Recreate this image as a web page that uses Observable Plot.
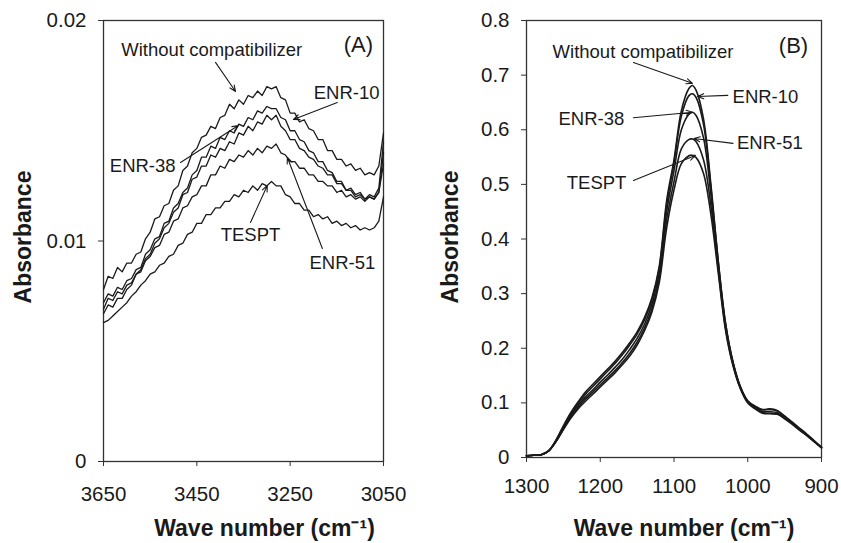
<!DOCTYPE html>
<html><head><meta charset="utf-8">
<script src="https://cdn.jsdelivr.net/npm/d3@7"></script>
<script src="https://cdn.jsdelivr.net/npm/@observablehq/plot@0.6"></script>
<style>
body{margin:0;background:#fff;}
#wrap{position:relative;width:841px;height:543px;overflow:hidden;background:#fff;}
#wrap > svg{position:absolute;top:0;}
</style></head><body><div id="wrap"></div>
<script>
// ---------- Panel A data (3650–3050 cm-1) ----------
const waveA = [3650,3640,3630,3620,3610,3600,3590,3580,3570,3560,3550,3540,3530,3520,3510,3500,3490,3480,3470,3460,3450,3440,3430,3420,3410,3400,3390,3380,3370,3360,3350,3340,3330,3320,3310,3300,3290,3280,3270,3260,3250,3240,3230,3220,3210,3200,3190,3180,3170,3160,3150,3140,3130,3120,3110,3100,3090,3080,3070,3060,3050];
const absA_without = [0.0078,0.0084,0.0083,0.0088,0.0086,0.0090,0.0090,0.0094,0.0095,0.0101,0.0104,0.0110,0.0111,0.0116,0.0117,0.0123,0.0125,0.0132,0.0134,0.0140,0.0142,0.0147,0.0148,0.0152,0.0151,0.0156,0.0157,0.0162,0.0160,0.0164,0.0162,0.0166,0.0165,0.0168,0.0166,0.0170,0.0169,0.0170,0.0165,0.0164,0.0158,0.0158,0.0154,0.0155,0.0151,0.0150,0.0146,0.0146,0.0141,0.0141,0.0137,0.0137,0.0134,0.0135,0.0132,0.0133,0.0130,0.0131,0.0130,0.0134,0.0149];
const absA_enr10 = [0.0072,0.0076,0.0075,0.0079,0.0078,0.0082,0.0083,0.0087,0.0088,0.0094,0.0096,0.0101,0.0102,0.0108,0.0109,0.0115,0.0117,0.0122,0.0124,0.0130,0.0132,0.0138,0.0138,0.0143,0.0142,0.0147,0.0146,0.0150,0.0149,0.0153,0.0152,0.0156,0.0155,0.0159,0.0158,0.0161,0.0160,0.0160,0.0156,0.0155,0.0150,0.0150,0.0146,0.0145,0.0141,0.0140,0.0136,0.0136,0.0132,0.0131,0.0127,0.0127,0.0123,0.0124,0.0121,0.0122,0.0119,0.0121,0.0120,0.0124,0.0145];
const absA_enr38 = [0.0069,0.0074,0.0073,0.0077,0.0076,0.0080,0.0081,0.0085,0.0087,0.0092,0.0094,0.0099,0.0101,0.0106,0.0108,0.0113,0.0115,0.0121,0.0122,0.0128,0.0129,0.0134,0.0134,0.0139,0.0138,0.0142,0.0141,0.0145,0.0144,0.0149,0.0148,0.0152,0.0150,0.0154,0.0153,0.0157,0.0155,0.0157,0.0152,0.0150,0.0146,0.0146,0.0142,0.0141,0.0138,0.0137,0.0134,0.0133,0.0130,0.0130,0.0126,0.0126,0.0123,0.0123,0.0120,0.0121,0.0119,0.0120,0.0119,0.0122,0.0140];
const absA_enr51 = [0.0067,0.0071,0.0070,0.0074,0.0074,0.0078,0.0080,0.0085,0.0086,0.0091,0.0093,0.0097,0.0098,0.0103,0.0104,0.0109,0.0110,0.0115,0.0116,0.0120,0.0121,0.0125,0.0125,0.0130,0.0130,0.0134,0.0133,0.0137,0.0136,0.0139,0.0138,0.0141,0.0139,0.0142,0.0140,0.0143,0.0142,0.0144,0.0140,0.0139,0.0136,0.0136,0.0133,0.0133,0.0130,0.0130,0.0127,0.0127,0.0125,0.0125,0.0122,0.0123,0.0120,0.0121,0.0119,0.0120,0.0118,0.0120,0.0119,0.0122,0.0135];
const absA_tespt = [0.0063,0.0064,0.0066,0.0068,0.0070,0.0072,0.0075,0.0077,0.0080,0.0082,0.0085,0.0086,0.0089,0.0090,0.0093,0.0094,0.0098,0.0099,0.0103,0.0104,0.0108,0.0108,0.0112,0.0112,0.0115,0.0115,0.0118,0.0118,0.0121,0.0120,0.0123,0.0122,0.0125,0.0123,0.0126,0.0125,0.0127,0.0125,0.0125,0.0121,0.0120,0.0117,0.0117,0.0114,0.0114,0.0111,0.0112,0.0110,0.0111,0.0108,0.0109,0.0107,0.0108,0.0106,0.0107,0.0105,0.0106,0.0105,0.0106,0.0109,0.0120];
const ticksXA = [3650,3450,3250,3050];
const ticksYA = [0,0.01,0.02];

// ---------- Panel B data (1300–900 cm-1) ----------
const waveB = [1300,1290,1280,1270,1260,1250,1240,1230,1220,1210,1200,1190,1180,1170,1160,1150,1140,1130,1120,1110,1100,1090,1080,1075,1070,1060,1050,1040,1030,1020,1010,1000,990,980,970,960,950,940,930,920,910,900];
const absB_without = [0.003,0.004,0.005,0.012,0.032,0.058,0.082,0.102,0.120,0.134,0.148,0.162,0.176,0.192,0.210,0.230,0.256,0.292,0.350,0.470,0.545,0.635,0.675,0.681,0.672,0.620,0.500,0.360,0.245,0.175,0.130,0.104,0.094,0.088,0.089,0.086,0.076,0.065,0.054,0.043,0.031,0.019];
const absB_enr10 = [0.003,0.004,0.005,0.012,0.031,0.056,0.080,0.099,0.116,0.130,0.144,0.158,0.172,0.188,0.206,0.226,0.252,0.288,0.346,0.462,0.540,0.625,0.662,0.666,0.659,0.610,0.495,0.358,0.244,0.174,0.129,0.103,0.093,0.087,0.088,0.085,0.075,0.064,0.053,0.042,0.030,0.018];
const absB_enr38 = [0.003,0.004,0.005,0.012,0.030,0.054,0.077,0.095,0.111,0.124,0.138,0.151,0.165,0.180,0.198,0.218,0.244,0.280,0.338,0.450,0.525,0.600,0.628,0.632,0.626,0.585,0.482,0.352,0.240,0.172,0.128,0.102,0.091,0.084,0.084,0.082,0.073,0.063,0.052,0.041,0.030,0.018];
const absB_enr51 = [0.003,0.004,0.005,0.012,0.029,0.052,0.074,0.092,0.107,0.120,0.133,0.146,0.159,0.174,0.191,0.211,0.237,0.272,0.328,0.435,0.505,0.565,0.582,0.583,0.578,0.545,0.462,0.345,0.236,0.170,0.127,0.101,0.090,0.082,0.081,0.080,0.072,0.062,0.051,0.041,0.029,0.018];
const absB_tespt = [0.003,0.004,0.005,0.012,0.029,0.051,0.072,0.089,0.103,0.116,0.129,0.142,0.155,0.170,0.186,0.206,0.232,0.266,0.320,0.420,0.490,0.538,0.552,0.553,0.549,0.520,0.445,0.338,0.232,0.168,0.126,0.100,0.089,0.081,0.080,0.079,0.071,0.061,0.050,0.040,0.029,0.018];
const ticksXB = [1300,1200,1100,1000,900];
const ticksYB = [0,0.1,0.2,0.3,0.4,0.5,0.6,0.7,0.8];

// ---------- Annotations (data units) ----------
const labelsA = [
  {text:"Without compatibilizer", x:3418, y:0.01868},
  {text:"ENR-10", x:3129, y:0.01669},
  {text:"ENR-38", x:3566, y:0.01342},
  {text:"TESPT", x:3335, y:0.01025},
  {text:"ENR-51", x:3138, y:0.00902}
];
const panelTagA = [{text:"(A)", x:3104, y:0.01887}];
const arrowsA = [
  {x1:3410, y1:0.01810, x2:3367, y2:0.01678},
  {x1:3149, y1:0.01628, x2:3243, y2:0.01551},
  {x1:3485, y1:0.01356, x2:3361, y2:0.01524},
  {x1:3335, y1:0.01084, x2:3299, y2:0.01252},
  {x1:3181, y1:0.00966, x2:3256, y2:0.01379}
];
const labelsB = [
  {text:"Without compatibilizer", x:1142, y:0.743},
  {text:"ENR-10", x:976, y:0.659},
  {text:"ENR-38", x:1212, y:0.619},
  {text:"ENR-51", x:970, y:0.575},
  {text:"TESPT", x:1205, y:0.503}
];
const panelTagB = [{text:"(B)", x:938, y:0.754}];
const arrowsB = [
  {x1:1155, y1:0.723, x2:1075, y2:0.685},
  {x1:1027, y1:0.663, x2:1068, y2:0.661},
  {x1:1155, y1:0.622, x2:1075, y2:0.632},
  {x1:1020, y1:0.575, x2:1073, y2:0.584},
  {x1:1155, y1:0.507, x2:1071, y2:0.553}
];

const seriesA = [["Without compatibilizer",absA_without],["ENR-10",absA_enr10],["ENR-38",absA_enr38],["ENR-51",absA_enr51],["TESPT",absA_tespt]];
const seriesB = [["Without compatibilizer",absB_without],["ENR-10",absB_enr10],["ENR-38",absB_enr38],["ENR-51",absB_enr51],["TESPT",absB_tespt]];
const rowsA = seriesA.flatMap(([s, v]) => v.map((a, i) => ({series: s, wave: waveA[i], abs: a})));
const rowsB = seriesB.flatMap(([s, v]) => v.map((a, i) => ({series: s, wave: waveB[i], abs: a})));

const FONT = "'Liberation Sans', Arial, Helvetica, sans-serif";
const INK = "#1a1a1a";
const fmt = d => d === 0 ? "0" : String(d);

function panel(opts) {
  return Plot.plot({
    width: opts.width, height: 543,
    marginLeft: opts.ml, marginRight: opts.mr, marginTop: 20, marginBottom: opts.mb,
    style: {fontFamily: FONT, fontSize: "20.5px", color: INK, background: "transparent", overflow: "visible"},
    x: {domain: opts.xdom},
    y: {domain: opts.ydom},
    marks: [
      Plot.frame({stroke: "#333", strokeWidth: 1.3}),
      Plot.axisX({ticks: opts.xt, tickFormat: d => String(d), tickSize: 5, tickPadding: opts.xpad, label: null, fontSize: 20.5, stroke: "#333"}),
      Plot.axisY({ticks: opts.yt, tickFormat: fmt, tickSize: 5, tickPadding: 12, label: null, fontSize: 20.5, stroke: "#333"}),
      Plot.line(opts.rows, {x: "wave", y: "abs", z: "series", stroke: INK, strokeWidth: opts.sw, curve: opts.curve}),
      Plot.arrow(opts.arrows, {x1: "x1", y1: "y1", x2: "x2", y2: "y2", stroke: INK, strokeWidth: 1.1, headLength: 9, headAngle: 45}),
      Plot.text(opts.labels, {x: "x", y: "y", text: "text", fontSize: 18.5, fill: INK, textAnchor: "middle", lineAnchor: "middle"}),
      Plot.text(opts.tag, {x: "x", y: "y", text: "text", fontSize: 22, fill: INK, textAnchor: "middle", lineAnchor: "middle"}),
      Plot.text(["Wave number (cm\u207B\u00B9)"], {frameAnchor: "bottom", dx: opts.tdx, dy: opts.tdy, fontSize: 23, fontWeight: "bold", fill: INK, textAnchor: "middle", lineAnchor: "middle"}),
      Plot.text(["Absorbance"], {frameAnchor: "left", rotate: -90, dx: opts.adx, dy: opts.ady, fontSize: 23, fontWeight: "bold", fill: INK, textAnchor: "middle", lineAnchor: "middle"})
    ]
  });
}

const wrap = document.getElementById("wrap");
const pA = panel({width: 420, ml: 103, mr: 37, mb: 82, xdom: [3650, 3050], ydom: [0, 0.02], xt: ticksXA, yt: ticksYA, xpad: 20, rows: rowsA, arrows: arrowsA, labels: labelsA, tag: panelTagA, sw: 1.3, curve: "linear", tdx: 21, tdy: 67, adx: -80, ady: -4});
pA.style.left = "0px";
wrap.appendChild(pA);
const pB = panel({width: 421, ml: 106, mr: 20, mb: 86, xdom: [1300, 900], ydom: [0, 0.8], xt: ticksXB, yt: ticksYB, xpad: 16, rows: rowsB, arrows: arrowsB, labels: labelsB, tag: panelTagB, sw: 1.6, curve: "catmull-rom", tdx: 10, tdy: 71, adx: -76, ady: -2});
pB.style.left = "420px";
wrap.appendChild(pB);
</script></body></html>
